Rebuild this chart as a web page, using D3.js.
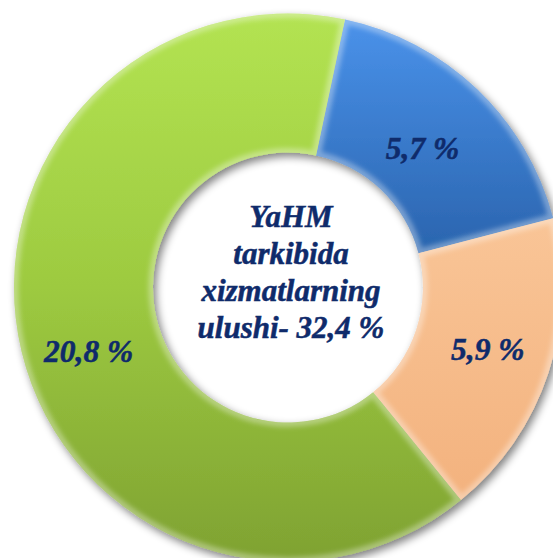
<!DOCTYPE html>
<html>
<head>
<meta charset="utf-8">
<script src="https://cdn.jsdelivr.net/npm/d3@7"></script>
<style>
  html, body { margin: 0; padding: 0; background: #ffffff; overflow: hidden; }
  svg { display: block; }
</style>
</head>
<body>
<svg id="chart" width="553" height="558"></svg>
<script>
// ---- data ----
const categories = ["Blue", "Peach", "Green"];
const values = [5.7, 5.9, 20.8];
const labels = ["5,7 %", "5,9 %", "20,8 %"];
const centerLines = ["YaHM", "tarkibida", "xizmatlarning", "ulushi- 32,4 %"];

// ---- styles ----
const gradStops = [
  ["#4a92ea", "#2a64ae"],
  ["#f9c597", "#f3b27e"],
  ["#b3e352", "#9dca40", "#7fa232"]
];
const labelNudge = [[-7, 9], [5, -2], [0, 16]];
const textColor = "#0f2b6b";

const width = 553, height = 558;
const cx = 288, cy = 287.5;
const outerR = 274, innerR = 135;
const startDeg = 12;

const svg = d3.select("#chart");
const defs = svg.append("defs");

// drop shadow
const shadow = defs.append("filter").attr("id", "shadow")
  .attr("x", "-20%").attr("y", "-20%").attr("width", "140%").attr("height", "140%");
shadow.append("feGaussianBlur").attr("in", "SourceAlpha").attr("stdDeviation", 4).attr("result", "b");
shadow.append("feOffset").attr("in", "b").attr("dx", 3).attr("dy", 4).attr("result", "o");
shadow.append("feComponentTransfer").attr("in", "o").attr("result", "s")
  .append("feFuncA").attr("type", "linear").attr("slope", 0.5);
const merge = shadow.append("feMerge");
merge.append("feMergeNode").attr("in", "s");
merge.append("feMergeNode").attr("in", "SourceGraphic");

const blur = defs.append("filter").attr("id", "bevelBlur")
  .attr("x", "-10%").attr("y", "-10%").attr("width", "120%").attr("height", "120%");
blur.append("feGaussianBlur").attr("stdDeviation", 2.5);

gradStops.forEach((stops, i) => {
  const g = defs.append("linearGradient").attr("id", "grad" + i)
    .attr("x1", 0).attr("y1", 0).attr("x2", 0).attr("y2", 1);
  stops.forEach((c, j) => {
    g.append("stop").attr("offset", (j / (stops.length - 1)) * 100 + "%").attr("stop-color", c);
  });
});

const pie = d3.pie().sort(null).value(d => d)
  .startAngle(startDeg * Math.PI / 180)
  .endAngle(startDeg * Math.PI / 180 + 2 * Math.PI);
const arcs = pie(values);

const arc = d3.arc().innerRadius(innerR).outerRadius(outerR);
const labelArc = d3.arc().innerRadius(205).outerRadius(205);

arcs.forEach((d, i) => {
  defs.append("clipPath").attr("id", "clip" + i)
    .append("path").attr("d", arc(d)).attr("transform", `translate(${cx},${cy})`);
});

const gChart = svg.append("g").attr("filter", "url(#shadow)");
const g = gChart.append("g").attr("transform", `translate(${cx},${cy})`);

g.selectAll("path.slice")
  .data(arcs)
  .join("path")
  .attr("class", "slice")
  .attr("d", arc)
  .attr("fill", (d, i) => `url(#grad${i})`);

// bevel highlights
const bevel = svg.append("g");
arcs.forEach((d, i) => {
  bevel.append("g").attr("clip-path", `url(#clip${i})`)
    .append("path")
    .attr("transform", `translate(${cx},${cy})`)
    .attr("d", arc(d))
    .attr("fill", "none")
    .attr("stroke", "#ffffff")
    .attr("stroke-opacity", 0.35)
    .attr("stroke-width", 9)
    .attr("filter", "url(#bevelBlur)");
});

const fontFamily = "'Liberation Serif', 'Times New Roman', serif";

// slice labels
svg.append("g").attr("transform", `translate(${cx},${cy})`)
  .selectAll("text")
  .data(arcs)
  .join("text")
  .attr("transform", (d, i) => {
    const c = labelArc.centroid(d);
    return `translate(${c[0] + labelNudge[i][0]},${c[1] + labelNudge[i][1]})`;
  })
  .attr("text-anchor", "middle")
  .attr("dy", "0.33em")
  .attr("font-family", fontFamily)
  .attr("font-style", "italic")
  .attr("font-weight", "bold")
  .attr("font-size", 31.5)
  .attr("fill", textColor)
  .attr("stroke", textColor)
  .attr("stroke-width", 0.5)
  .text((d, i) => labels[i]);

// center text
const ct = svg.append("text")
  .attr("text-anchor", "middle")
  .attr("font-family", fontFamily)
  .attr("font-style", "italic")
  .attr("font-weight", "bold")
  .attr("font-size", 31)
  .attr("fill", textColor)
  .attr("stroke", textColor)
  .attr("stroke-width", 0.5);
centerLines.forEach((line, i) => {
  ct.append("tspan").attr("x", 291).attr("y", 227 + i * 37).text(line);
});
</script>
</body>
</html>
